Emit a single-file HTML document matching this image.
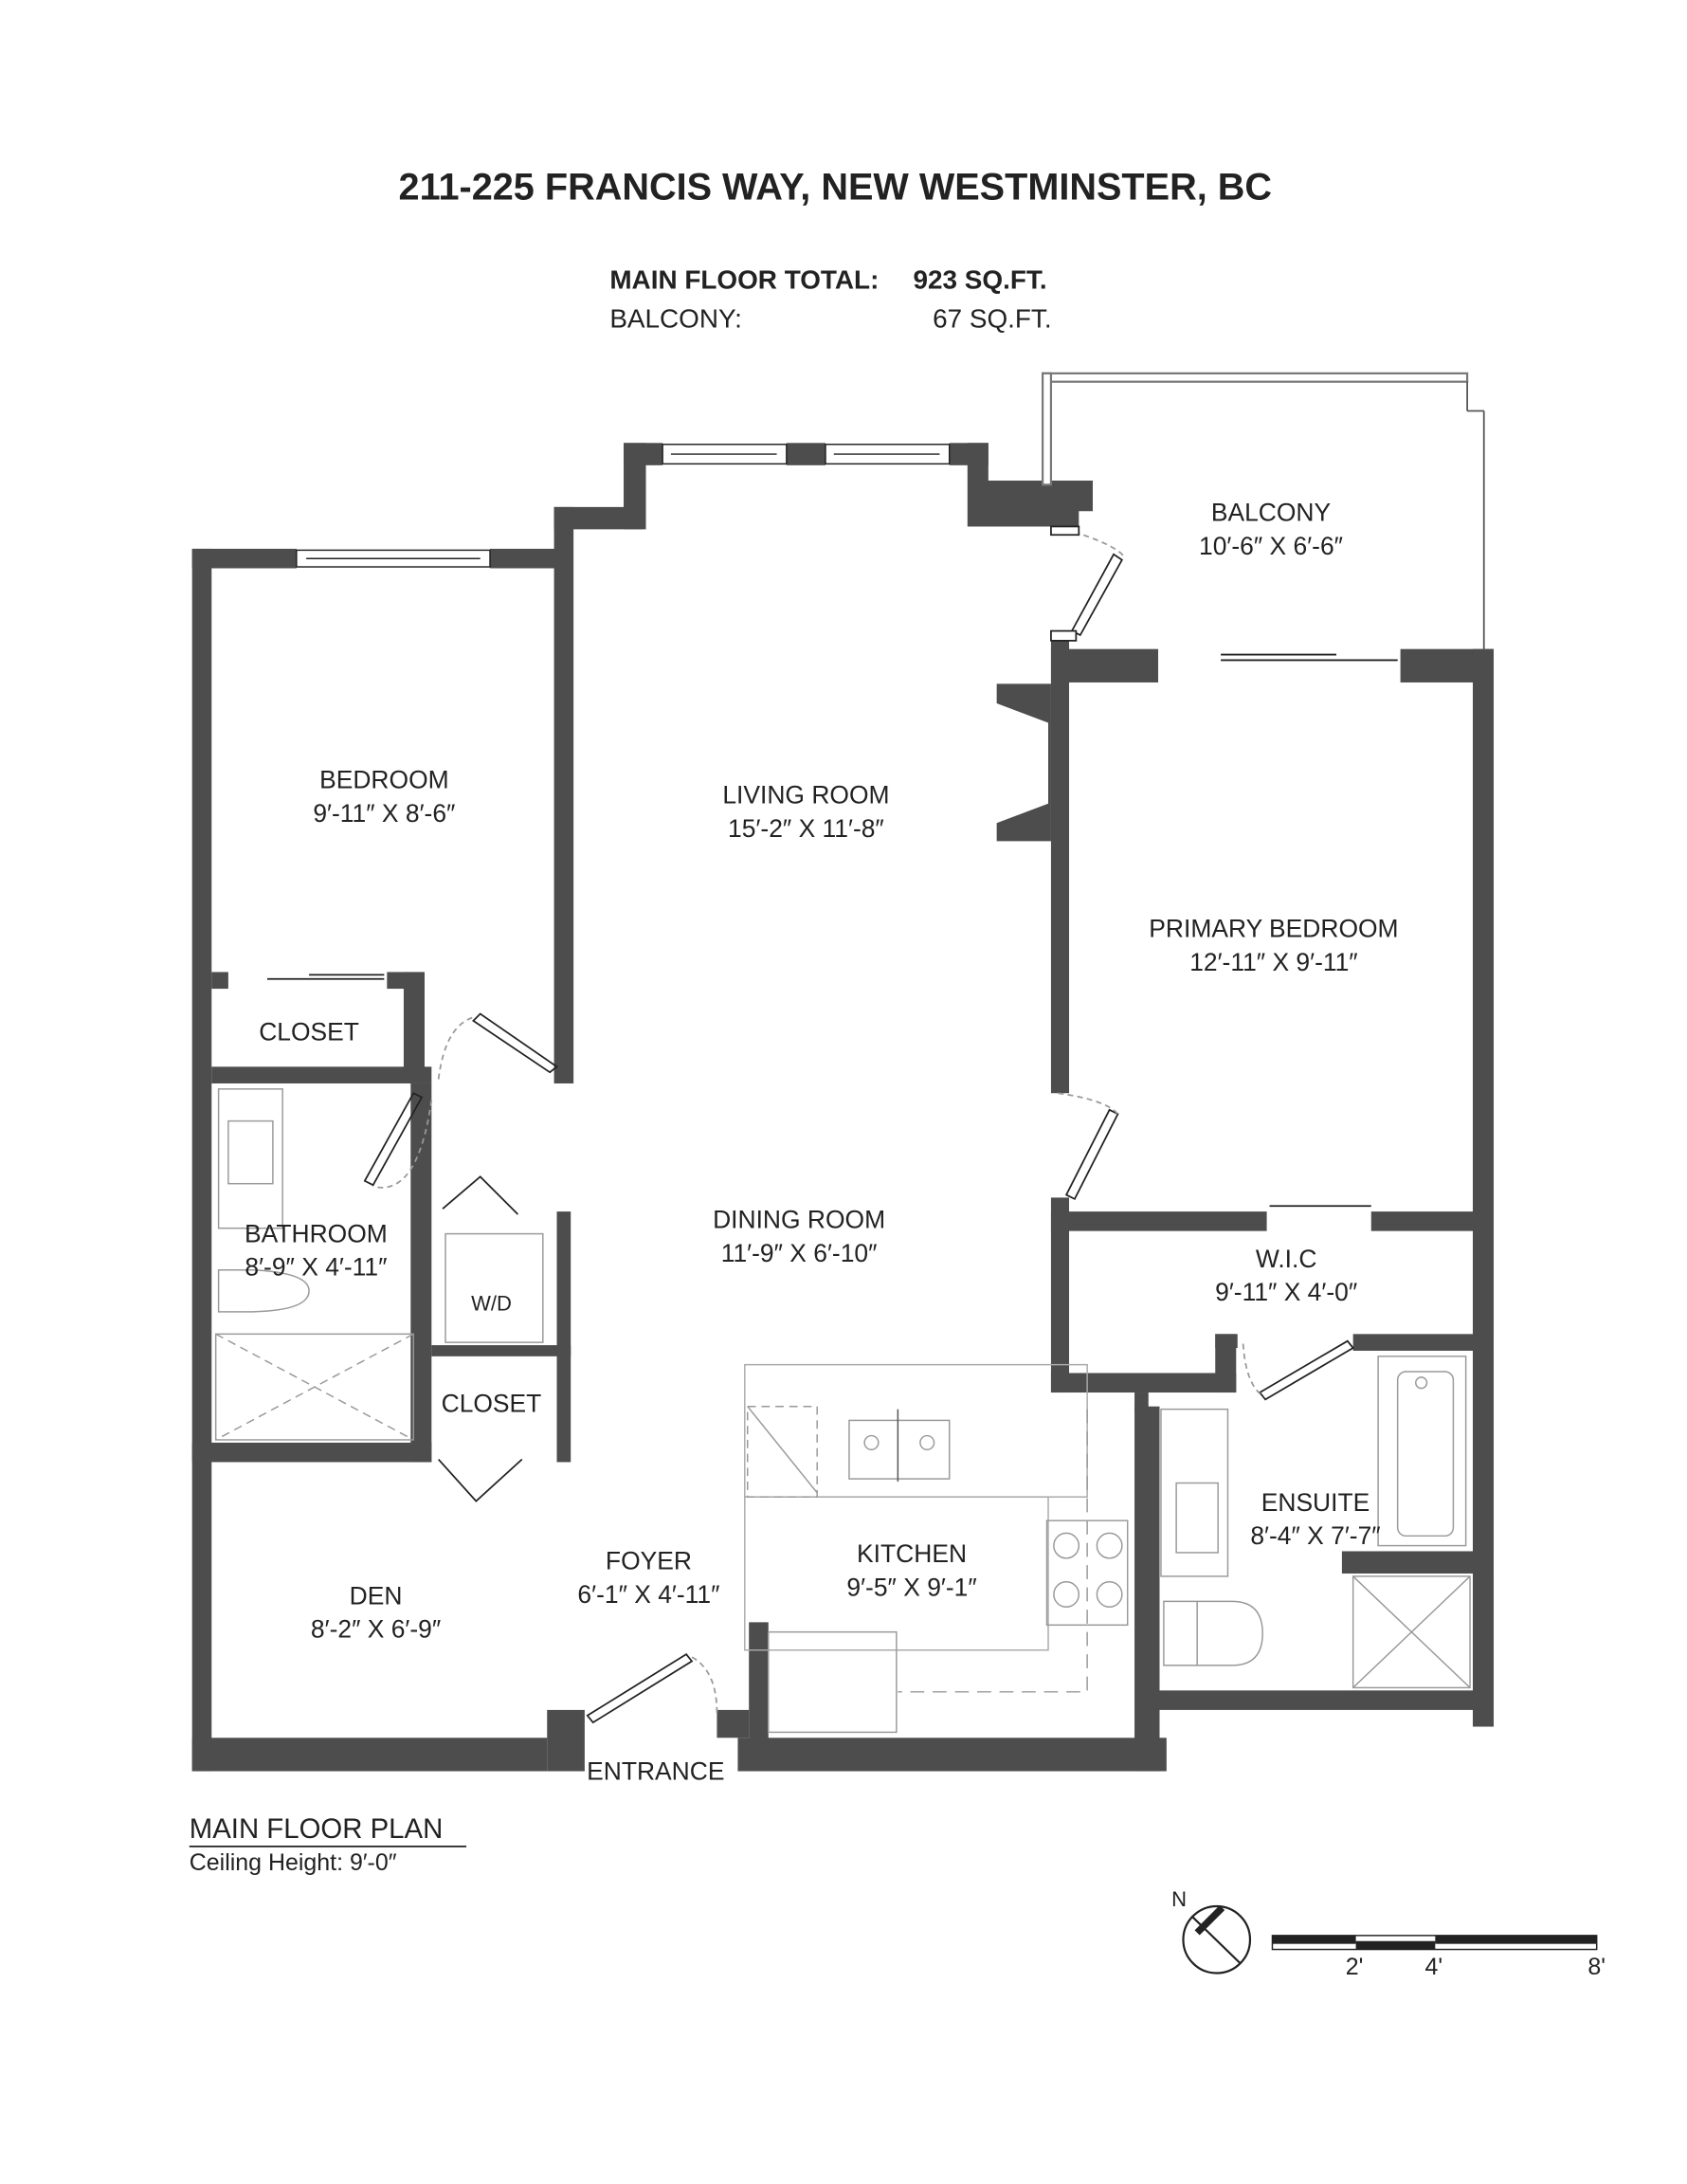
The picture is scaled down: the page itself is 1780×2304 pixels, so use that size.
<!DOCTYPE html>
<html><head><meta charset="utf-8"><style>
html,body{margin:0;padding:0;background:#fff;}
svg{display:block;}
text{font-family:"Liberation Sans",sans-serif;fill:#222;}
</style></head><body>
<svg width="1780" height="2304" viewBox="0 0 1224 1584" xmlns="http://www.w3.org/2000/svg">
<rect width="1224" height="1584" fill="#fff"/>
<g transform="scale(1.01)">
<!-- titles -->
<text x="600" y="143" font-size="27" font-weight="bold" text-anchor="middle">211-225 FRANCIS WAY, NEW WESTMINSTER, BC</text>
<text x="438" y="207" font-size="19" font-weight="bold">MAIN FLOOR TOTAL:</text>
<text x="656" y="207" font-size="19" font-weight="bold">923 SQ.FT.</text>
<text x="438" y="235" font-size="19">BALCONY:</text>
<text x="670" y="235" font-size="19">67 SQ.FT.</text>

<g fill="#4d4d4d">
<rect x="138" y="394" width="14" height="878"/>
<rect x="138" y="394" width="75" height="14"/>
<rect x="352" y="394" width="58" height="14"/>
<rect x="398" y="364" width="14" height="414"/>
<rect x="398" y="364" width="64" height="16"/>
<rect x="448" y="318" width="16" height="62"/>
<rect x="448" y="318" width="28" height="16"/>
<rect x="565" y="318" width="28" height="16"/>
<rect x="682" y="318" width="28" height="16"/>
<polygon points="695,318 710,318 710,345 785,345 785,367 775,367 775,378 695,378"/>
<rect x="755" y="455" width="13" height="330"/>
<rect x="755" y="466" width="77" height="24"/>
<rect x="1006" y="466" width="67" height="24"/>
<rect x="1058" y="466" width="15" height="774"/>
<polygon points="716,491 755,491 755,604 716,604 716,591 753,577 753,519 716,505"/>
<rect x="755" y="860" width="13" height="140"/>
<rect x="755" y="870" width="155" height="14"/>
<rect x="985" y="870" width="88" height="14"/>
<rect x="755" y="986" width="133" height="14"/>
<rect x="873" y="958" width="15" height="42"/>
<rect x="873" y="958" width="16" height="10"/>
<rect x="972" y="958" width="100" height="12"/>
<rect x="815" y="1010" width="18" height="262"/>
<rect x="815" y="1000" width="10" height="14"/>
<rect x="964" y="1114" width="108" height="16"/>
<rect x="833" y="1214" width="240" height="14"/>
<rect x="138" y="1248" width="255" height="24"/>
<rect x="393" y="1228" width="27" height="44"/>
<rect x="530" y="1248" width="308" height="24"/>
<rect x="538" y="1165" width="14" height="95"/>
<rect x="515" y="1228" width="23" height="20"/>
<rect x="152" y="766" width="158" height="12"/>
<rect x="290" y="698" width="15" height="70"/>
<rect x="278" y="698" width="27" height="12"/>
<rect x="152" y="698" width="12" height="12"/>
<rect x="295" y="778" width="15" height="272"/>
<rect x="138" y="1036" width="172" height="14"/>
<rect x="400" y="870" width="10" height="180"/>
<rect x="310" y="966" width="100" height="8"/>
</g>
<g fill="#fff" stroke="#222" stroke-width="1">
<rect x="213" y="395" width="139" height="12"/><line x1="220" y1="401" x2="345" y2="401"/>
<rect x="476" y="319" width="89" height="14"/><line x1="482" y1="326" x2="558" y2="326"/>
<rect x="593" y="319" width="89" height="14"/><line x1="599" y1="326" x2="675" y2="326"/>
</g>
<rect x="749" y="268" width="305" height="6" fill="#fff" stroke="#777" stroke-width="1.5"/>
<rect x="749" y="268" width="6" height="80" fill="#fff" stroke="#777" stroke-width="1.5"/>
<line x1="1054" y1="274" x2="1054" y2="295" stroke="#555" stroke-width="1.2"/>
<line x1="1054" y1="295" x2="1066" y2="295" stroke="#555" stroke-width="1.2"/>
<line x1="1066" y1="295" x2="1066" y2="466" stroke="#555" stroke-width="1.2"/>
<g fill="none" stroke="#222" stroke-width="1.2">
<polygon points="770,453 776,456 806,402 800,398"/>
<path d="M765,380 Q800,390 808,400" stroke="#999" stroke-dasharray="4,3"/>
<rect x="755" y="378" width="20" height="6" fill="#fff"/>
<rect x="755" y="453" width="18" height="7" fill="#fff"/>
<polygon points="766,858 772,861 803,800 797,797"/>
<path d="M760,785 Q795,790 803,800" stroke="#999" stroke-dasharray="4,3"/>
<polygon points="395,770 400,766 345,728 340,733"/>
<path d="M315,775 Q320,735 342,730" stroke="#999" stroke-dasharray="4,3"/>
<polygon points="262,848 268,851 303,788 297,785"/>
<path d="M310,790 Q300,860 268,852" stroke="#999" stroke-dasharray="4,3"/>
<polygon points="422,1232 426,1237 497,1193 493,1188"/>
<path d="M515,1230 Q515,1200 497,1190" stroke="#999" stroke-dasharray="4,3"/>
<polygon points="905,1000 909,1005 972,968 968,963"/>
<path d="M893,965 Q895,995 908,1003" stroke="#999" stroke-dasharray="4,3"/>
<line x1="877" y1="474" x2="1004" y2="474"/><line x1="877" y1="470" x2="960" y2="470"/>
<line x1="912" y1="866" x2="985" y2="866"/>
<line x1="192" y1="703" x2="276" y2="703"/><line x1="222" y1="700" x2="276" y2="700"/>
<polyline points="318,868 345,845 372,872"/>
<polyline points="315,1048 342,1078 375,1048"/>
</g>
<g fill="none" stroke="#999" stroke-width="1">
<rect x="157" y="782" width="46" height="100"/>
<rect x="164" y="805" width="32" height="45"/>
<rect x="155" y="958" width="142" height="76"/>
<line x1="155" y1="958" x2="297" y2="1034" stroke-dasharray="6,4"/>
<line x1="297" y1="958" x2="155" y2="1034" stroke-dasharray="6,4"/>
<path d="M157,912 h25 q40,2 40,15 q0,14 -40,15 h-25 z"/>
<rect x="320" y="886" width="70" height="78"/>
<rect x="535" y="980" width="246" height="95" stroke="#aaa"/>
<rect x="535" y="1075" width="218" height="110" stroke="#aaa"/>
<rect x="537" y="1010" width="50" height="65" stroke-dasharray="6,4"/>
<line x1="537" y1="1010" x2="587" y2="1072"/>
<rect x="610" y="1020" width="72" height="42"/>
<circle cx="626" cy="1036" r="5"/><circle cx="666" cy="1036" r="5"/>
<line x1="645" y1="1012" x2="645" y2="1064" stroke="#555"/>
<rect x="752" y="1092" width="58" height="75"/>
<circle cx="766" cy="1110" r="9"/><circle cx="797" cy="1110" r="9"/>
<circle cx="766" cy="1145" r="9"/><circle cx="797" cy="1145" r="9"/>
<polyline points="781,1012 781,1215 645,1215" stroke-dasharray="10,6"/>
<rect x="552" y="1172" width="92" height="72"/>
<rect x="834" y="1012" width="48" height="120"/>
<rect x="845" y="1065" width="30" height="50"/>
<rect x="990" y="974" width="63" height="136"/>
<rect x="1004" y="985" width="40" height="118" rx="6"/>
<circle cx="1021" cy="993" r="4"/>
<rect x="972" y="1132" width="84" height="80"/>
<line x1="972" y1="1132" x2="1056" y2="1212"/><line x1="1056" y1="1132" x2="972" y2="1212"/>
<path d="M836,1150 h24 v46 h-24 z M860,1150 h25 q22,0 22,23 q0,23 -22,23 h-25"/>
</g>
<text x="353" y="941" font-size="15" fill="#555" text-anchor="middle">W/D</text>
<g font-size="18" text-anchor="middle">
<text x="276" y="566">BEDROOM</text><text x="276" y="590">9′-11″ X 8′-6″</text>
<text x="579" y="577">LIVING ROOM</text><text x="579" y="601">15′-2″ X 11′-8″</text>
<text x="913" y="374">BALCONY</text><text x="913" y="398">10′-6″ X 6′-6″</text>
<text x="915" y="673">PRIMARY BEDROOM</text><text x="915" y="697">12′-11″ X 9′-11″</text>
<text x="222" y="747">CLOSET</text>
<text x="227" y="892">BATHROOM</text><text x="227" y="916">8′-9″ X 4′-11″</text>
<text x="574" y="882">DINING ROOM</text><text x="574" y="906">11′-9″ X 6′-10″</text>
<text x="924" y="910">W.I.C</text><text x="924" y="934">9′-11″ X 4′-0″</text>
<text x="353" y="1014">CLOSET</text>
<text x="945" y="1085">ENSUITE</text><text x="945" y="1109">8′-4″ X 7′-7″</text>
<text x="655" y="1122">KITCHEN</text><text x="655" y="1146">9′-5″ X 9′-1″</text>
<text x="466" y="1127">FOYER</text><text x="466" y="1151">6′-1″ X 4′-11″</text>
<text x="270" y="1152">DEN</text><text x="270" y="1176">8′-2″ X 6′-9″</text>
<text x="471" y="1278">ENTRANCE</text>
</g>
<text x="136" y="1320" font-size="20">MAIN FLOOR PLAN</text>
<line x1="136" y1="1326" x2="335" y2="1326" stroke="#222" stroke-width="1.2"/>
<text x="136" y="1343" font-size="17">Ceiling Height: 9′-0″</text>
<circle cx="874" cy="1393" r="24" fill="none" stroke="#222" stroke-width="1.5"/>
<line x1="856" y1="1376" x2="891" y2="1410" stroke="#222" stroke-width="1.5"/>
<line x1="860" y1="1388" x2="878" y2="1370" stroke="#222" stroke-width="5"/>
<text x="847" y="1369" font-size="15" text-anchor="middle">N</text>
<rect x="914" y="1390" width="60" height="6" fill="#222"/>
<rect x="974" y="1394" width="57" height="6" fill="#222"/>
<rect x="1031" y="1390" width="116" height="6" fill="#222"/>
<rect x="914" y="1390" width="233" height="10" fill="none" stroke="#222" stroke-width="1"/>
<text x="973" y="1418" font-size="17" text-anchor="middle">2'</text>
<text x="1030" y="1418" font-size="17" text-anchor="middle">4'</text>
<text x="1147" y="1418" font-size="17" text-anchor="middle">8'</text>
</g>
</svg>
</body></html>
